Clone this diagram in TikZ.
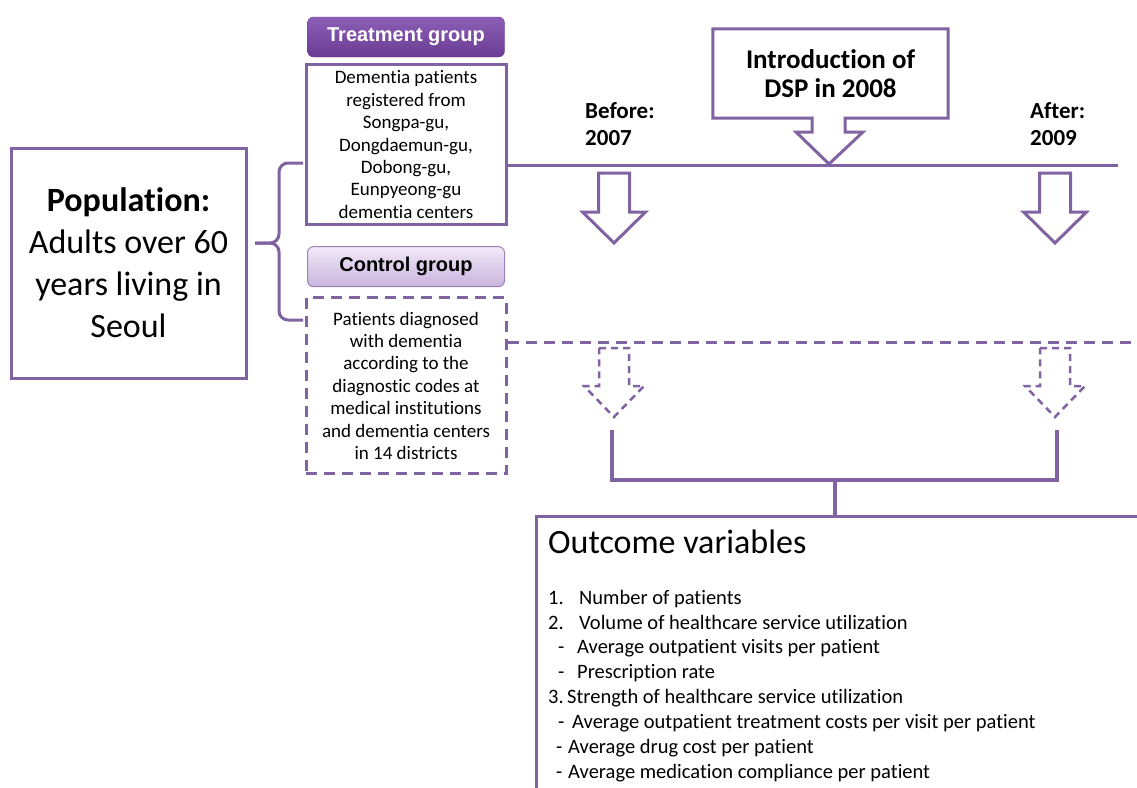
\documentclass[tikz,border=0pt]{standalone}
\usepackage{fontspec}
\setmainfont{Carlito}[Ligatures=NoCommon]
\newfontfamily\labelfont{Liberation Sans}
\usetikzlibrary{positioning}

\definecolor{dsppurple}{HTML}{8064A2}
\definecolor{treattop}{HTML}{8C5EB6}
\definecolor{treatdark}{HTML}{6A3C94}
\definecolor{ctrltop}{HTML}{F1E9F8}
\definecolor{ctrlbottom}{HTML}{CAB4DE}

\tikzset{
  box/.style={draw=dsppurple, line width=3pt, fill=white, align=center, inner sep=0pt},
  dashbox/.style={box, dash pattern=on 11pt off 7pt},
  grouplabel/.style={rounded corners=6pt, minimum width=197pt, minimum height=40pt, inner sep=0pt,
    font=\labelfont\bfseries\fontsize{20}{24}\selectfont},
  blockarrow/.style={draw=dsppurple, line width=3pt, fill=white, line join=miter},
  dasharrow/.style={blockarrow, line width=2.5pt, dash pattern=on 7pt off 5pt},
  timeline/.style={draw=dsppurple, line width=3pt},
  grpbrace/.style={draw=dsppurple, line width=3pt, rounded corners=9pt},
  bracket/.style={draw=dsppurple, line width=4pt},
  yeartext/.style={align=left, inner sep=0pt, anchor=north west, font=\bfseries\fontsize{23}{27}\selectfont},
  itemtext/.style={inner sep=0pt, anchor=base west, font=\fontsize{20.5}{25}\selectfont},
}

\begin{document}
\begin{tikzpicture}[x=1pt,y=-1pt]
\useasboundingbox (0,0) rectangle (1137,787);

% population and the two groups
\node[box, minimum width=235pt, minimum height=230pt, font=\fontsize{34}{42}\selectfont] (pop) at (128.5,263)
  {\textbf{Population:}\\Adults over 60\\years living in\\Seoul};

\node[grouplabel, top color=treattop, bottom color=treatdark, draw=treatdark, text=white] (trlabel) at (406,37) {Treatment group};
\node[box, minimum width=200pt, minimum height=160pt, font=\fontsize{19}{22.4}\selectfont, below=6pt of trlabel] (trbox)
  {Dementia patients\\registered from\\Songpa-gu,\\Dongdaemun-gu,\\Dobong-gu,\\Eunpyeong-gu\\dementia centers};

\node[grouplabel, top color=ctrltop, bottom color=ctrlbottom, draw=dsppurple!80, line width=1pt, below=20pt of trbox] (ctlabel) {Control group};
\node[dashbox, minimum width=200pt, minimum height=176pt, font=\fontsize{19}{22.4}\selectfont, below=9pt of ctlabel] (ctbox)
  {Patients diagnosed\\with dementia\\according to the\\diagnostic codes at\\medical institutions\\and dementia centers\\in 14 districts};

\coordinate (bracetop) at (303,163);
\coordinate (bracebot) at (303,320);
\coordinate (bracetip) at (255,243);
\draw[grpbrace] (bracetop) -- (279,163) -- (279,243) -- (bracetip);
\draw[grpbrace] (bracebot) -- (279,320) -- (279,243) -- (bracetip);

% time lines
\coordinate (tlend) at (1118,165);
\coordinate (ctend) at (1137,342);
\draw[timeline] (trbox.east |- 0,165) -- (tlend);
\draw[timeline, dash pattern=on 11pt off 7pt] (ctbox.east |- 0,342) -- (ctend);

\node[yeartext] (before) at (585,102) {Before:\\2007};
\node[yeartext] (after) at (1030,102) {After:\\2009};

% DSP callout
\node[inner sep=0pt, minimum width=235pt, minimum height=89pt, align=center,
  font=\bfseries\fontsize{27}{29}\selectfont] (dsp) at (830.5,73.5) {Introduction of\\DSP in 2008};
\coordinate (dsptip) at (829,164);
\draw[blockarrow, fill=none] (dsp.south west) -- (dsp.north west) -- (dsp.north east) -- (dsp.south east)
  -- (845,118) -- (845,132) -- (863,132) -- (dsptip) -- (796,132) -- (812,132) -- (812,118) -- cycle;

% block arrows
\foreach \x in {614,1055} {
  \draw[blockarrow] ({\x-15.5},173) -- ({\x+15.5},173) -- ({\x+15.5},212) -- ({\x+31.5},212)
    -- (\x,243) -- ({\x-31.5},212) -- ({\x-15.5},212) -- cycle;
  \draw[dasharrow] ({\x-15},348) -- ({\x+15},348) -- ({\x+15},386) -- ({\x+30},386)
    -- (\x,417) -- ({\x-30},386) -- ({\x-15},386) -- cycle;
}

% outcome box
\node[box, anchor=north west, minimum width=640pt, minimum height=300pt] (out) at (535,515) {};
\coordinate (brl) at (612,430);
\coordinate (brr) at (1057,430);
\coordinate (join) at (835,480);
\draw[bracket] (brl) -- (brl |- join) -- (brr |- join) -- (brr);
\draw[bracket, line width=3.5pt] (join) -- (join |- out.north);

\node[inner sep=0pt, anchor=base west, font=\fontsize{34}{40}\selectfont] (outtitle) at (548,553) {Outcome variables};
\foreach \mx/\m/\tx/\t/\y [count=\i] in {
  548/1./579/Number of patients/604,
  548/2./579/Volume of healthcare service utilization/629,
  558/-/577/Average outpatient visits per patient/653,
  558/-/577/Prescription rate/678,
  548/3./567/Strength of healthcare service utilization/703,
  558/-/572/Average outpatient treatment costs per visit per patient/728,
  556/-/568/Average drug cost per patient/753,
  556/-/568/Average medication compliance per patient/778} {
  \node[itemtext] (mark\i) at (\mx,\y) {\m};
  \node[itemtext] (item\i) at (\tx,\y) {\t};
}
\end{tikzpicture}
\end{document}
